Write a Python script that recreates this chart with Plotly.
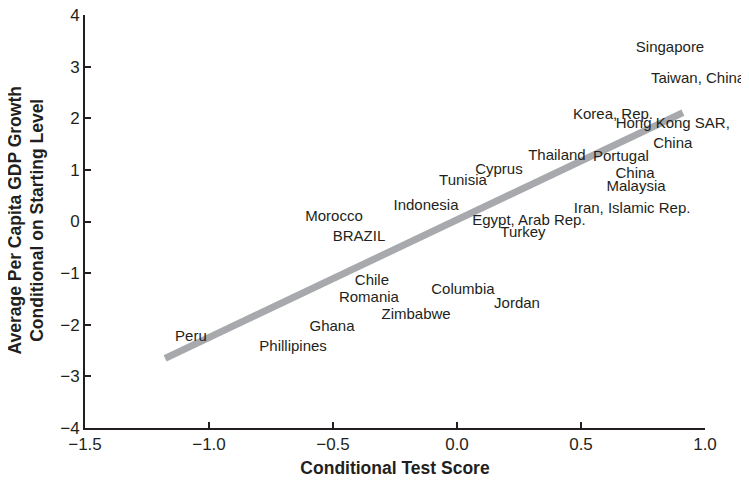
import plotly.graph_objects as go

countries = ["Singapore", "Taiwan, China", "Korea, Rep.", "Hong Kong SAR,<br>China",
             "Thailand", "Portugal", "China", "Malaysia", "Cyprus", "Tunisia",
             "Indonesia", "Iran, Islamic Rep.", "Egypt, Arab Rep.", "Turkey",
             "Morocco", "BRAZIL", "Chile", "Romania", "Zimbabwe", "Columbia",
             "Jordan", "Ghana", "Phillipines", "Peru"]
test_score = [0.859, 0.972, 0.629, 0.870, 0.403, 0.661, 0.718, 0.722, 0.169, 0.024,
              -0.125, 0.706, 0.290, 0.266, -0.496, -0.395, -0.343, -0.355, -0.165, 0.024,
              0.242, -0.504, -0.661, -1.073]
gdp_growth = [3.35, 2.75, 2.05, 1.69, 1.26, 1.24, 0.91, 0.66, 0.99, 0.78,
              0.29, 0.23, 0.0, -0.23, 0.08, -0.31, -1.16, -1.49, -1.82, -1.34,
              -1.61, -2.05, -2.44, -2.25]

fit_x = [-1.177, 0.911]
fit_y = [-2.65, 2.11]

FONT = "Liberation Sans, Arial, Helvetica, sans-serif"
INK = "#231f20"

fig = go.Figure()
fig.add_trace(go.Scatter(x=fit_x, y=fit_y, mode="lines",
                         line=dict(color="#a7a9ac", width=7), hoverinfo="skip",
                         showlegend=False))
fig.add_trace(go.Scatter(x=test_score, y=gdp_growth, mode="text", text=countries,
                         textposition="middle center",
                         textfont=dict(family=FONT, size=15, color=INK),
                         cliponaxis=False, showlegend=False))

axis_common = dict(showline=True, linecolor=INK, linewidth=2, ticks="inside",
                   ticklen=6, tickwidth=2, tickcolor=INK, showgrid=False,
                   zeroline=False, automargin=False, ticklabeloverflow="allow",
                   tickfont=dict(family=FONT, size=17, color=INK))

fig.update_xaxes(range=[-1.5, 1.0], dtick=0.5, tick0=-1.5, tickformat=".1f",
                 title=dict(text="<b>Conditional Test Score</b>",
                            font=dict(family=FONT, size=17.5, color=INK), standoff=8),
                 **axis_common)
fig.update_yaxes(range=[-4, 4], dtick=1, tick0=-4, **axis_common)

fig.add_annotation(text="<b>Average Per Capita GDP Growth<br>Conditional on Starting Level</b>",
                   xref="paper", yref="paper", x=0, y=0.5, xshift=-59, yshift=1,
                   xanchor="center", yanchor="middle", textangle=-90, showarrow=False,
                   font=dict(family=FONT, size=17.5, color=INK))

fig.update_layout(width=741, height=473, margin=dict(l=77, r=44, t=7, b=53),
                  plot_bgcolor="white", paper_bgcolor="white")

fig.write_html("out.html")
